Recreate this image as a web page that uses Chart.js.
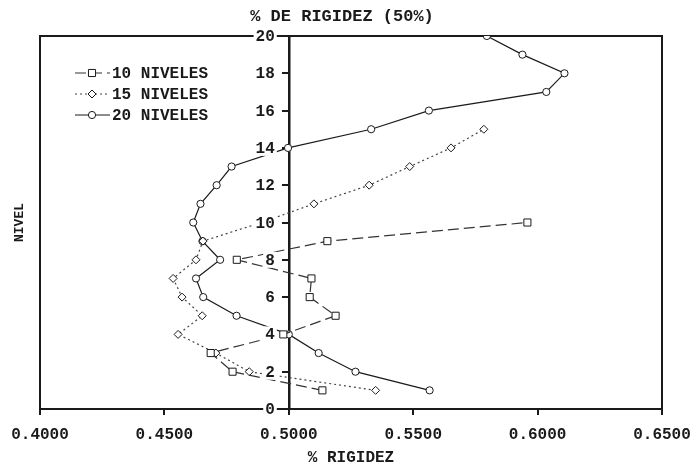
<!DOCTYPE html>
<html>
<head>
<meta charset="utf-8">
<script src="https://cdn.jsdelivr.net/npm/chart.js@4/dist/chart.umd.min.js"></script>
<style>
  body { margin: 0; background: #fff; }
  canvas { display: block; }
</style>
</head>
<body>
<canvas id="rigidezChart" width="693" height="464"></canvas>
<script>
// % de rigidez por nivel (50%)
const seriesLabels = ['10 NIVELES', '15 NIVELES', '20 NIVELES'];
const levels = [1, 2, 3, 4, 5, 6, 7, 8, 9, 10, 11, 12, 13, 14, 15, 16, 17, 18, 19, 20];
const rig10 = [0.5135, 0.4774, 0.4686, 0.4978, 0.5188, 0.5084, 0.5091, 0.4791, 0.5155, 0.5959];
const rig15 = [0.5349, 0.4841, 0.4707, 0.4555, 0.4652, 0.4571, 0.4535, 0.4627, 0.4655, 0.4890,
               0.5101, 0.5323, 0.5486, 0.5652, 0.5784];
const rig20 = [0.5566, 0.5268, 0.5120, 0.5000, 0.4790, 0.4656, 0.4627, 0.4724, 0.4653, 0.4616,
               0.4645, 0.4710, 0.4770, 0.4997, 0.5331, 0.5563, 0.6035, 0.6108, 0.5939, 0.5796];
const xTicks = [0.40, 0.45, 0.50, 0.55, 0.60, 0.65];
const yTicks = [0, 2, 4, 6, 8, 10, 12, 14, 16, 18, 20];
const yAxisAt = 0.5;

const MONO = "'Liberation Mono', 'DejaVu Sans Mono', monospace";
const INK = '#1a1a1a';

function toPoints(values) {
    return values.map((v, i) => ({ x: v, y: levels[i] }));
}

// legend drawn as line + marker + text rows, inside the plot (top left)
const legendRows = {
    id: 'legendRows',
    afterDatasetsDraw(chart) {
        const { ctx, chartArea } = chart;
        ctx.save();
        chart.data.datasets.forEach((ds, i) => {
            const x0 = chartArea.left + 35;
            const y = chartArea.top + 37 + i * 21;
            ctx.strokeStyle = ds.borderColor;
            ctx.lineWidth = ds.borderWidth;
            ctx.setLineDash(ds.borderDash || []);
            ctx.beginPath();
            ctx.moveTo(x0, y);
            ctx.lineTo(x0 + 35, y);
            ctx.stroke();
            ctx.setLineDash([]);
            ctx.fillStyle = '#fff';
            ctx.strokeStyle = INK;
            ctx.lineWidth = 1;
            Chart.helpers.drawPoint(ctx, {
                pointStyle: ds.pointStyle,
                radius: ds.pointRadius,
                borderWidth: 1
            }, x0 + 17, y);
            ctx.fillStyle = INK;
            ctx.font = 'bold 16px ' + MONO;
            ctx.textBaseline = 'middle';
            ctx.textAlign = 'left';
            ctx.fillText(ds.label, x0 + 37, y + 1);
        });
        ctx.restore();
    }
};

// y tick labels sit left of the centred axis, on a white backdrop over the lines
const yLabels = {
    id: 'yLabels',
    afterDatasetsDraw(chart) {
        const { ctx } = chart;
        const ys = chart.scales.y;
        const right = chart.scales.x.getPixelForValue(yAxisAt) - 14;
        ctx.save();
        ctx.font = 'bold 16px ' + MONO;
        ctx.textAlign = 'right';
        ctx.textBaseline = 'middle';
        ys.ticks.forEach(t => {
            const py = ys.getPixelForValue(t.value);
            const text = String(t.value);
            const w = ctx.measureText(text).width;
            ctx.fillStyle = '#fff';
            ctx.fillRect(right - w - 2, py - 8, w + 4, 16);
            ctx.fillStyle = INK;
            ctx.fillText(text, right, py + 1);
        });
        ctx.restore();
    }
};

const frameBorder = { display: true, color: INK, width: 2 };
const noGrid = { display: false, drawTicks: false };

new Chart(document.getElementById('rigidezChart'), {
    type: 'line',
    data: {
        datasets: [
            {
                label: seriesLabels[0],
                data: toPoints(rig10),
                borderColor: '#333',
                borderWidth: 1.2,
                borderDash: [11, 5],
                pointStyle: 'rect',
                pointRadius: 5,
                pointBackgroundColor: '#fff',
                pointBorderColor: INK,
                pointBorderWidth: 1
            },
            {
                label: seriesLabels[1],
                data: toPoints(rig15),
                borderColor: '#444',
                borderWidth: 1.2,
                borderDash: [2, 3],
                pointStyle: 'rectRot',
                pointRadius: 4,
                pointBackgroundColor: '#fff',
                pointBorderColor: INK,
                pointBorderWidth: 1
            },
            {
                label: seriesLabels[2],
                data: toPoints(rig20),
                borderColor: INK,
                borderWidth: 1.2,
                pointStyle: 'circle',
                pointRadius: 3.6,
                pointBackgroundColor: '#fff',
                pointBorderColor: INK,
                pointBorderWidth: 1
            }
        ]
    },
    options: {
        responsive: false,
        animation: false,
        devicePixelRatio: 1,
        layout: { padding: { left: 22, right: 31, top: 0, bottom: 0 } },
        elements: { line: { tension: 0 } },
        plugins: {
            legend: { display: false },
            tooltip: { enabled: false },
            title: {
                display: true,
                text: '% DE RIGIDEZ (50%)',
                color: INK,
                font: { family: MONO, size: 17, weight: 'bold', lineHeight: 1.2 },
                padding: { top: 7, bottom: 8.6 }
            }
        },
        scales: {
            x: {
                type: 'linear',
                position: 'bottom',
                min: 0.4,
                max: 0.65,
                afterBuildTicks: s => { s.ticks = xTicks.map(v => ({ value: v })); },
                grid: { display: true, drawOnChartArea: false, drawTicks: true, tickLength: 6, color: INK, lineWidth: 2 },
                border: frameBorder,
                ticks: {
                    color: INK,
                    padding: 2,
                    maxRotation: 0,
                    font: { family: MONO, size: 16, weight: 'bold', lineHeight: 2.25 },
                    callback: v => v.toFixed(4)
                },
                title: {
                    display: true,
                    text: '% RIGIDEZ',
                    color: INK,
                    font: { family: MONO, size: 16, weight: 'bold', lineHeight: 0.75 },
                    padding: { top: -3, bottom: 0 }
                }
            },
            xt: {
                type: 'linear',
                position: 'top',
                min: 0.4,
                max: 0.65,
                grid: noGrid,
                border: frameBorder,
                ticks: { display: false }
            },
            y: {
                type: 'linear',
                position: { x: yAxisAt },
                min: 0,
                max: 20,
                afterBuildTicks: s => { s.ticks = yTicks.map(v => ({ value: v })); },
                grid: { display: true, drawOnChartArea: false, drawTicks: true, tickLength: 6, color: INK, lineWidth: 2 },
                border: { display: true, color: INK, width: 2.5 },
                ticks: { display: false }
            },
            yl: {
                type: 'linear',
                position: 'left',
                min: 0,
                max: 20,
                grid: noGrid,
                border: frameBorder,
                ticks: { display: false },
                title: {
                    display: true,
                    text: 'NIVEL',
                    color: INK,
                    font: { family: MONO, size: 13, weight: 'bold', lineHeight: 1.2 },
                    padding: { top: -9.8, bottom: 12.2 }
                }
            },
            yr: {
                type: 'linear',
                position: 'right',
                min: 0,
                max: 20,
                grid: noGrid,
                border: frameBorder,
                ticks: { display: false }
            }
        }
    },
    plugins: [yLabels, legendRows]
});
</script>
</body>
</html>
